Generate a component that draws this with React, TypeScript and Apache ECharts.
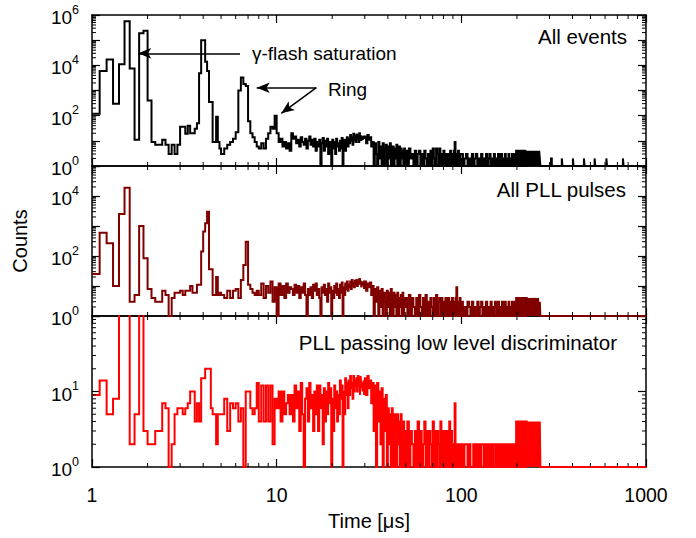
import React, { useEffect, useRef } from 'react';
import * as echarts from 'echarts';

const FONT = '"Liberation Sans", Arial, Helvetica, sans-serif';

// ---- bin left edges (µs) ----
const edgesA = [1.0, 1.1, 1.2, 1.3, 1.4, 1.5, 1.6, 1.7, 1.8, 1.9, 2.0, 2.1, 2.2, 2.3, 2.4, 2.5, 2.6, 2.7, 2.8, 2.9, 3.0, 3.1, 3.2, 3.3, 3.4, 3.5, 3.6, 3.7, 3.8, 3.9, 4.0, 4.1, 4.2, 4.3, 4.4, 4.5, 4.6, 4.7, 4.8, 4.9];
const edgesB = [5.0, 5.2, 5.4, 5.6, 5.8, 6.0, 6.2, 6.4, 6.6, 6.8, 7.0, 7.2, 7.4, 7.6, 7.8];
const edgesC = [8.0, 8.25, 8.5, 8.75, 9.0, 9.25, 9.5, 9.75, 10.0, 10.25, 10.5, 10.75, 11.0, 11.25, 11.5, 11.75];
const edgesD = [12, 12.25, 12.5, 12.75, 13, 13.25, 13.5, 13.75, 14, 14.25, 14.5, 14.75, 15, 15.25, 15.5, 15.75, 16, 16.25, 16.5, 16.75, 17, 17.25, 17.5, 17.75, 18, 18.25, 18.5, 18.75, 19, 19.25, 19.5, 19.75, 20, 20.25, 20.5, 20.75, 21, 21.25, 21.5, 21.75, 22, 22.25, 22.5, 22.75, 23, 23.25, 23.5, 23.75, 24, 24.25, 24.5, 24.75, 25, 25.25, 25.5, 25.75, 26, 26.25, 26.5, 26.75, 27, 27.25, 27.5, 27.75, 28, 28.25, 28.5, 28.75, 29, 29.25, 29.5, 29.75];
const edgesE = [30, 30.5, 31, 31.5, 32, 32.5, 33, 33.5, 34, 34.5, 35, 35.5, 36, 36.5, 37, 37.5, 38, 38.5, 39, 39.5, 40, 40.5, 41, 41.5, 42, 42.5, 43, 43.5, 44, 44.5, 45, 45.5, 46, 46.5, 47, 47.5, 48, 48.5, 49, 49.5];
const edgesF = [50, 51, 52, 53, 54, 55, 56, 57, 58, 59, 60, 61, 62, 63, 64, 65, 66, 67, 68, 69, 70, 71, 72, 73, 74, 75, 76, 77, 78, 79, 80, 81, 82, 83, 84, 85, 86, 87, 88, 89, 90, 91, 92, 93, 94, 95, 96, 97, 98, 99];
const edgesG = [100, 102, 104, 106, 108, 110, 112, 114, 116, 118, 120, 122, 124, 126, 128, 130, 132, 134, 136, 138, 140, 142, 144, 146, 148, 150, 152, 154, 156, 158, 160, 162, 164, 166, 168, 170, 172, 174, 176, 178, 180, 182, 184, 186, 188, 190, 192, 194, 196, 198, 200, 202, 204, 206, 208, 210, 212, 214, 216, 218, 220, 222, 224, 226, 228, 230, 232, 234, 236, 238, 240, 242, 244, 246, 248, 250, 252, 254, 256, 258, 260, 262, 264, 266, 268];
const edgesTail = [270, 306, 309, 350, 353, 402, 405, 461, 465, 527, 531, 610, 615, 750, 756];
const lastEdge = 1000;

// ---- All events (counts) ----
const allA = [120, 6000, 17000, 300, 11000, 560000, 7400, 11, 190000, 236000, 400, 9, 7, 7, 11, 7, 3, 7, 3, 7, 36, 36, 19, 40, 20, 20, 30, 50, 4800, 100000, 100000, 14000, 6000, 350, 350, 9, 9, 90, 9, 5];
const allB = [3, 5, 7, 9, 12, 22, 1000, 3300, 1800, 1500, 60, 20, 14, 9, 6];
const allC = [5, 8, 5, 12, 20, 36, 30, 100, 20, 9, 12, 6, 9, 5, 8, 4];
const allD = [20, 12, 15, 8, 11, 6, 14, 9, 7, 12, 5, 10, 15, 7, 11, 6, 12, 4, 9, 6, 11, 1, 8, 13, 4, 10, 6, 12, 3, 9, 7, 1, 11, 5, 9, 3, 12, 6, 8, 4, 10, 5, 13, 1, 7, 11, 4, 9, 14, 6, 12, 8, 17, 10, 14, 7, 19, 11, 15, 9, 18, 12, 16, 9, 20, 13, 17, 10, 15, 11, 16, 12];
const allE = [15, 8, 17, 11, 14, 6, 9, 1, 8, 3, 1, 9, 2, 6, 1, 8, 1, 5, 7, 1, 6, 2, 8, 1, 4, 6, 1, 5, 2, 7, 1, 4, 6, 1, 5, 2, 4, 1, 5, 1];
const allF = [4, 1, 5, 2, 3, 1, 4, 1, 3, 4, 1, 3, 1, 4, 2, 1, 3, 1, 4, 1, 5, 2, 1, 5, 3, 1, 5, 1, 3, 1, 4, 1, 3, 2, 1, 3, 1, 4, 1, 3, 1, 4, 9, 1, 3, 1, 4, 2, 1, 3];
const allG = [3, 1, 2, 3, 1, 2, 1, 3, 1, 2, 3, 1, 2, 1, 3, 1, 2, 1, 3, 1, 2, 3, 1, 2, 1, 3, 1, 2, 1, 3, 1, 2, 3, 1, 2, 1, 3, 1, 2, 1, 3, 1, 2, 1, 3, 2, 1, 3, 1, 4, 1, 4, 2, 1, 4, 3, 1, 4, 1, 3, 4, 1, 2, 4, 1, 4, 3, 1, 4, 2, 1, 4, 1, 3, 4, 1, 4, 2, 1, 4, 3, 1, 4, 2, 1];
const allTail = [1, 2, 1, 2, 1, 2, 1, 2, 1, 2, 1, 2, 1, 2, 1];

// ---- All PLL pulses ----
const pllA = [25, 600, 265, 10, 2500, 19000, 3, 5, 1000, 84, 8, 4, 3, 3, 7, 5, 1, 4, 6, 6, 7, 5, 7, 7, 10, 6, 6, 11, 11, 140, 650, 1230, 3000, 36, 36, 5, 5, 20, 5, 6];
const pllB = [5, 4, 7, 4, 7, 8, 4, 16, 50, 300, 11, 8, 6, 5, 7];
const pllC = [5, 12, 4, 10, 6, 14, 3, 9, 1, 12, 5, 10, 4, 12, 6, 9];
const pllD = [8, 5, 11, 6, 10, 4, 9, 6, 12, 5, 1, 8, 5, 9, 4, 11, 7, 12, 5, 8, 4, 1, 9, 6, 11, 5, 8, 3, 12, 6, 9, 1, 7, 4, 10, 6, 12, 5, 8, 4, 11, 6, 13, 1, 9, 5, 12, 8, 14, 7, 11, 9, 14, 8, 16, 10, 13, 9, 15, 11, 16, 10, 14, 12, 17, 11, 15, 9, 14, 12, 13, 8];
const pllE = [14, 7, 12, 9, 13, 5, 10, 1, 8, 3, 9, 1, 7, 2, 8, 1, 6, 3, 1, 7, 2, 6, 1, 8, 3, 1, 6, 2, 5, 1, 6, 1, 4, 2, 5, 1, 6, 1, 4, 2];
const pllF = [4, 1, 5, 1, 4, 2, 1, 4, 1, 5, 2, 1, 4, 1, 5, 1, 3, 1, 4, 2, 1, 4, 1, 5, 1, 3, 4, 1, 4, 1, 3, 1, 4, 2, 1, 4, 1, 3, 1, 4, 1, 3, 1, 4, 9, 1, 3, 1, 4, 1];
const pllG = [3, 1, 2, 1, 3, 2, 1, 3, 1, 2, 1, 3, 1, 2, 3, 1, 2, 1, 3, 1, 2, 1, 3, 1, 2, 1, 3, 2, 1, 3, 1, 2, 1, 3, 1, 2, 3, 1, 2, 1, 3, 1, 2, 1, 3, 1, 2, 3, 1, 4, 1, 4, 2, 1, 4, 1, 3, 4, 1, 4, 2, 1, 4, 3, 1, 4, 1, 4, 2, 1, 4, 1, 3, 4, 1, 4, 2, 1, 4, 1, 4, 2, 1, 3, 1];
const pllTail = [1, 1, 1, 1, 1, 1, 1, 1, 1, 1, 1, 1, 1, 1, 1];

// ---- PLL passing low level discriminator ----
const lldA = [9, 14, 5, 8, 400, 400, 2, 5, 400, 3, 2, 2, 3, 3, 7, 6, 1, 2, 5, 6, 6, 5, 6, 7, 10, 10, 4, 7, 4, 15, 15, 20, 20, 20, 6, 5, 5, 2, 5, 5];
const lldB = [5, 8, 3, 7, 6, 7, 4, 6, 1, 10, 10, 6, 5, 6, 13];
const lldC = [4, 12, 4, 12, 4, 12, 2, 8, 6, 10, 4, 10, 5, 7, 9, 5];
const lldD = [9, 4, 12, 6, 10, 3, 13, 5, 1, 8, 11, 4, 13, 6, 9, 3, 10, 5, 12, 3, 12, 6, 9, 2, 11, 4, 10, 5, 13, 7, 11, 1, 8, 3, 12, 6, 10, 4, 9, 5, 14, 8, 12, 1, 10, 5, 15, 9, 13, 6, 14, 9, 16, 11, 13, 8, 16, 10, 14, 12, 15, 10, 16, 12, 14, 9, 16, 11, 13, 10, 14, 9];
const lldE = [15, 9, 16, 11, 14, 7, 13, 3, 12, 1, 13, 4, 10, 2, 11, 1, 8, 3, 9, 1, 6, 2, 5, 1, 6, 2, 1, 5, 3, 1, 5, 2, 4, 1, 5, 1, 3, 4, 1, 3];
const lldF = [1, 4, 1, 3, 2, 1, 3, 1, 4, 1, 3, 1, 2, 4, 1, 3, 1, 3, 2, 1, 4, 1, 3, 1, 3, 2, 1, 4, 1, 3, 1, 3, 2, 1, 3, 1, 4, 1, 3, 1, 2, 1, 7, 1, 2, 1, 2, 1, 2, 1];
const lldG = [2, 1, 2, 2, 1, 2, 1, 1, 2, 1, 2, 1, 2, 1, 2, 2, 1, 2, 1, 2, 1, 2, 1, 2, 1, 2, 2, 1, 2, 1, 2, 1, 2, 1, 1, 2, 1, 2, 1, 2, 1, 2, 1, 2, 1, 2, 1, 2, 1, 4, 1, 4, 2, 1, 4, 1, 3, 4, 1, 4, 2, 1, 4, 1, 3, 4, 1, 4, 2, 1, 4, 1, 3, 4, 1, 4, 1, 3, 4, 1, 4, 2, 1, 4, 1];
const lldTail = [1, 1, 1, 1, 1, 1, 1, 1, 1, 1, 1, 1, 1, 1, 1];

// ---- axes / panels ----
const xTickLabels = ['1', '10', '100', '1000'];
const panelTitles = ['All events', 'All PLL pulses', 'PLL passing low level discriminator'];
const panelColors = ['#000000', '#800000', '#ff0000'];
const panelYMax = [1e6, 1e5, 1e2];
const panelLabelExps = [[0, 2, 4, 6], [0, 2, 4], [0, 1]];
const panelTops = [15, 166, 316];
const panelHeights = [151, 150, 151];
const titleRight = [627, 626, 617];
const titleY = [36, 189, 342];

// annotation arrows in data coordinates (top panel): [from, to]
const arrows = [
  [[6.33, 30000], [1.78, 30000]],
  [[16.4, 1290], [7.8, 1290]],
  [[16.4, 1290], [10.6, 124]],
];
const annotations = [
  { text: 'γ-flash saturation', x: 252, y: 53 },
  { text: 'Ring', x: 328, y: 89 },
];

const edges = [...edgesA, ...edgesB, ...edgesC, ...edgesD, ...edgesE, ...edgesF, ...edgesG, ...edgesTail];

function steps(values: number[]) {
  const pts = edges.map((e, i) => [e, values[i] ?? 1]);
  pts.push([lastEdge, values[values.length - 1]]);
  return pts;
}

const seriesValues = [
  [...allA, ...allB, ...allC, ...allD, ...allE, ...allF, ...allG, ...allTail],
  [...pllA, ...pllB, ...pllC, ...pllD, ...pllE, ...pllF, ...pllG, ...pllTail],
  [...lldA, ...lldB, ...lldC, ...lldD, ...lldE, ...lldF, ...lldG, ...lldTail],
];

function minorLog(lo: number, hi: number) {
  const out: number[] = [];
  for (let d = lo; d < hi; d *= 10) for (let k = 2; k <= 9; k++) out.push(d * k);
  return out;
}

export default function App() {
  const ref = useRef<HTMLDivElement>(null);
  useEffect(() => {
    if (!ref.current) return;
    const chart = echarts.init(ref.current, undefined, { renderer: 'svg' });
    const grids: any[] = [];
    const xAxes: any[] = [];
    const yAxes: any[] = [];
    const series: any[] = [];
    const xMinor = minorLog(1, 1000);
    const tickStyle = { color: '#000', width: 1.2 };
    for (let p = 0; p < 3; p++) {
      grids.push({ left: 92, right: 50, top: panelTops[p], height: panelHeights[p], outerBoundsMode: 'none' });
      const exps = panelLabelExps[p];
      const base = {
        type: 'log', logBase: 10, gridIndex: p, splitLine: { show: false },
        axisLine: { show: true, onZero: false, lineStyle: { color: '#000', width: 1.5 } },
        axisTick: { show: true, inside: true, length: 8, lineStyle: tickStyle },
      };
      xAxes.push({
        ...base, min: 1, max: 1000, position: 'bottom',
        axisLabel: {
          show: p === 2, margin: 18, color: '#000', fontSize: 19.5, fontFamily: FONT,
          formatter: (v: number) => xTickLabels[Math.round(Math.log10(v))] ?? '',
        },
        ...(p === 2 ? { name: 'Time [μs]', nameLocation: 'middle', nameGap: 44, nameTextStyle: { color: '#000', fontSize: 20, fontFamily: FONT } } : {}),
      });
      xAxes.push({ ...base, min: 1, max: 1000, position: 'top', axisLabel: { show: false } });
      yAxes.push({
        ...base, min: 1, max: panelYMax[p], position: 'left',
        axisLabel: {
          show: true, margin: 13, color: '#000', fontFamily: FONT,
          formatter: (v: number) => {
            const e = Math.round(Math.log10(v));
            return exps.includes(e) ? `{b|10}{s|${e}}` : '';
          },
          rich: {
            b: { fontSize: 19, fontFamily: FONT, color: '#000', lineHeight: 24, verticalAlign: 'bottom' },
            s: { fontSize: 12.5, fontFamily: FONT, color: '#000', lineHeight: 12, verticalAlign: 'top' },
          },
        },
        ...(p === 1 ? { name: 'Counts', nameLocation: 'middle', nameGap: 62, nameTextStyle: { color: '#000', fontSize: 20, fontFamily: FONT } } : {}),
      });
      yAxes.push({ ...base, min: 1, max: panelYMax[p], position: 'right', axisLabel: { show: false } });

      series.push({
        type: 'line', xAxisIndex: 2 * p, yAxisIndex: 2 * p, step: 'end', symbol: 'none', showSymbol: false,
        clip: true, silent: true, z: 2, color: panelColors[p],
        lineStyle: { color: panelColors[p], width: 2, join: 'miter' },
        data: steps(seriesValues[p]),
        ...(p === 0 ? {
          markLine: {
            silent: true, symbol: ['none', 'arrow'], symbolSize: [8, 13], precision: 6,
            label: { show: false },
            lineStyle: { color: '#000', width: 1.5, type: 'solid' },
            data: arrows.map(([a, b]) => [{ coord: a }, { coord: b }]),
          },
        } : {}),
      });
      const ymax = panelYMax[p];
      series.push({
        type: 'custom', xAxisIndex: 2 * p, yAxisIndex: 2 * p, silent: true, z: 5, clip: false,
        data: xMinor.map((v) => [v, 1]),
        renderItem: (_params: any, api: any) => {
          const v = api.value(0);
          const b = api.coord([v, 1]);
          const t = api.coord([v, ymax]);
          return {
            type: 'group', children: [
              { type: 'line', shape: { x1: b[0], y1: b[1], x2: b[0], y2: b[1] - 4 }, style: { stroke: '#000', lineWidth: 1 } },
              { type: 'line', shape: { x1: t[0], y1: t[1], x2: t[0], y2: t[1] + 4 }, style: { stroke: '#000', lineWidth: 1 } },
            ],
          };
        },
      });
      series.push({
        type: 'custom', xAxisIndex: 2 * p, yAxisIndex: 2 * p, silent: true, z: 5, clip: false,
        data: minorLog(1, ymax).map((v) => [1, v]),
        renderItem: (_params: any, api: any) => {
          const v = api.value(1);
          const l = api.coord([1, v]);
          const r = api.coord([1000, v]);
          return {
            type: 'group', children: [
              { type: 'line', shape: { x1: l[0], y1: l[1], x2: l[0] + 4, y2: l[1] }, style: { stroke: '#000', lineWidth: 1 } },
              { type: 'line', shape: { x1: r[0], y1: r[1], x2: r[0] - 4, y2: r[1] }, style: { stroke: '#000', lineWidth: 1 } },
            ],
          };
        },
      });
    }

    const graphic: any[] = [];
    for (let p = 0; p < 3; p++) {
      graphic.push({
        type: 'text', x: titleRight[p], y: titleY[p], silent: true,
        style: { text: panelTitles[p], fill: '#000', fontSize: 20.5, fontFamily: FONT, align: 'right', verticalAlign: 'middle', textAlign: 'right', textVerticalAlign: 'middle' },
      });
    }
    annotations.forEach((a) => {
      graphic.push({
        type: 'text', x: a.x, y: a.y, silent: true,
        style: { text: a.text, fill: '#000', fontSize: 19, fontFamily: FONT, align: 'left', verticalAlign: 'middle', textAlign: 'left', textVerticalAlign: 'middle' },
      });
    });

    chart.setOption({
      animation: false,
      backgroundColor: '#ffffff',
      textStyle: { fontFamily: FONT },
      grid: grids,
      xAxis: xAxes,
      yAxis: yAxes,
      series,
      graphic,
    });
    return () => chart.dispose();
  }, []);
  return <div ref={ref} style={{ position: 'fixed', left: 0, top: 0, width: 696, height: 538 }} />;
}
